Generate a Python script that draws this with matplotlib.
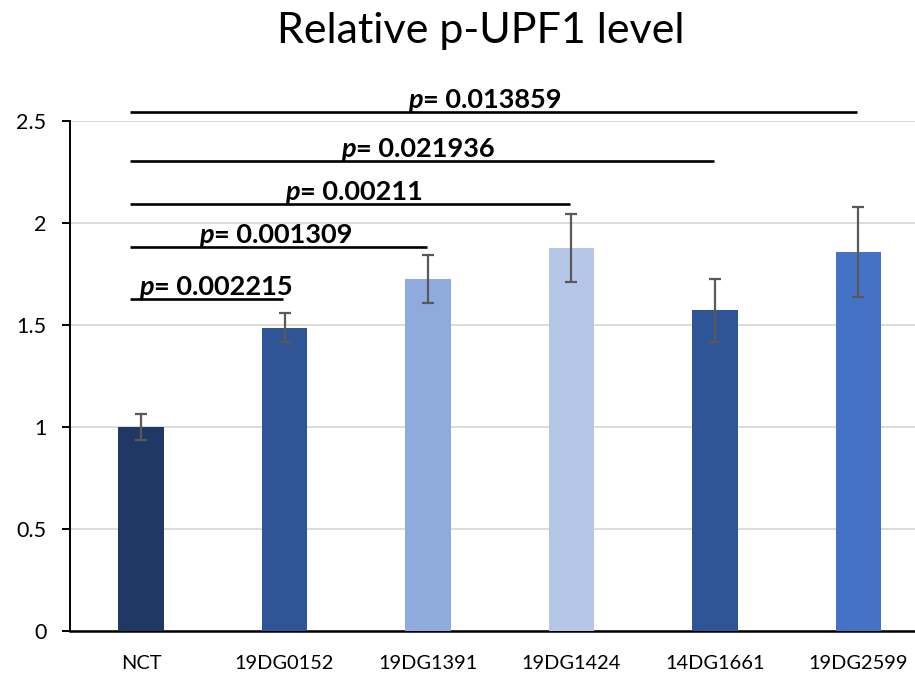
import matplotlib
matplotlib.use("Agg")
import matplotlib.pyplot as plt
import numpy as np

categories = ["NCT", "19DG0152", "19DG1391", "19DG1424", "14DG1661", "19DG2599"]
values = [1.00, 1.487, 1.725, 1.877, 1.572, 1.856]
errors = [0.065, 0.072, 0.116, 0.166, 0.155, 0.221]
bar_colors = ["#203864", "#2F5597", "#8FAADC", "#B4C7E7", "#2F5597", "#4472C4"]

# significance brackets: (start bar, end bar, level, p label)
sig_start = [0, 0, 0, 0, 0]
sig_end = [1, 2, 3, 4, 5]
sig_level = [1.626, 1.884, 2.093, 2.302, 2.544]
sig_p = ["0.002215", "0.001309", "0.00211", "0.021936", "0.013859"]
# horizontal position of the "p|=" junction of each label (in bar units)
sig_text_x = [0.091, 0.509, 1.108, 1.498, 1.965]

FONT = "Lato"
plt.rcParams["font.family"] = [FONT, "DejaVu Sans"]

fig = plt.figure(figsize=(9.15, 6.76), dpi=100)
W, H = 915, 676
ax = fig.add_axes([70 / W, 1 - 631 / H, (915 - 70) / W, (631 - 121) / H])

x = np.arange(len(categories))
ax.bar(x, values, width=0.32, color=bar_colors, zorder=3)
ax.errorbar(x, values, yerr=errors, fmt="none", ecolor="#595959",
            elinewidth=1.6, capsize=4.5, capthick=1.6, zorder=4)

ax.set_xlim(-0.495, 5.394)
ax.set_ylim(0, 2.5)
ax.set_yticks([0, 0.5, 1, 1.5, 2, 2.5])
ax.set_yticklabels(["0", "0.5", "1", "1.5", "2", "2.5"])
ax.set_xticks(x)
ax.set_xticklabels(categories)
ax.tick_params(axis="x", length=0, pad=17, labelsize=14.4, colors="black")
ax.tick_params(axis="y", length=6, width=1.4, pad=11, labelsize=15.5, colors="black")

ax.yaxis.grid(True, color="#d9d9d9", linewidth=1.3, zorder=0)
ax.set_axisbelow(True)
for s in ["top", "right"]:
    ax.spines[s].set_visible(False)
ax.spines["left"].set_linewidth(1.4)
ax.spines["bottom"].set_linewidth(1.8)
ax.spines["left"].set_color("black")
ax.spines["bottom"].set_color("black")

for s0, s1, lvl, p, tx in zip(sig_start, sig_end, sig_level, sig_p, sig_text_x):
    ax.plot([s0 - 0.077, s1 - 0.01], [lvl, lvl], color="black", lw=1.9,
            solid_capstyle="butt", zorder=5, clip_on=False)
    ax.text(tx, lvl + 0.02, "p", ha="right", va="baseline", fontsize=19.5,
            fontweight="bold", fontstyle="italic", zorder=6)
    ax.text(tx, lvl + 0.02, "= " + p, ha="left", va="baseline", fontsize=19.5,
            fontweight="bold", zorder=6)

fig.text(480.5 / W, 1 - 43 / H, "Relative p-UPF1 level", ha="center",
         va="baseline", fontsize=31, color="black")

fig.savefig("out.png", dpi=100)
